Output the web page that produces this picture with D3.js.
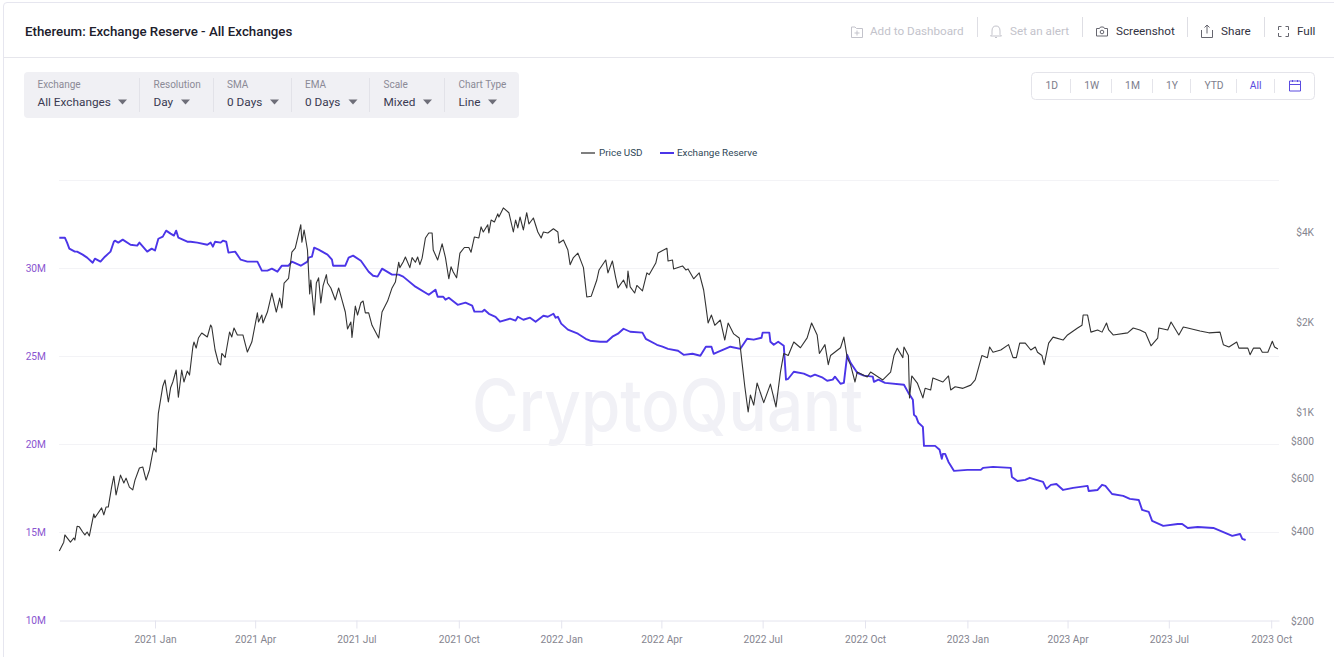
<!DOCTYPE html>
<html>
<head>
<meta charset="utf-8">
<script src="https://cdn.jsdelivr.net/npm/d3@7"></script>
<style>
html,body{margin:0;padding:0;background:#fff;overflow:hidden}
svg{display:block;font-family:Roboto,sans-serif}
</style>
</head>
<body>
<svg id="c" width="1334" height="657"></svg>
<script>
// ---------- data (days since the first date, and the value) ----------
const startDate = "2020-10-07";
const endDate = "2023-10-08";
const priceDays = [0,4,5,10,13,14,16,18,21,23,25,27,31,32,38,40,42,44,47,49,51,55,58,60,63,66,68,72,75,78,81,84,85,87,89,93,95,98,100,102,105,107,110,112,115,117,120,121,123,125,128,133,136,137,140,143,145,146,149,153,155,157,160,165,169,173,178,179,182,183,187,191,195,198,200,202,206,209,212,217,218,220,223,225,226,229,231,233,235,237,240,241,244,248,251,254,257,259,262,263,266,268,271,273,275,278,281,287,290,295,299,302,305,306,309,311,315,317,320,322,324,326,329,332,335,336,340,344,347,350,352,354,357,360,364,368,370,373,377,379,381,385,386,388,391,394,395,399,404,408,410,412,414,417,420,422,426,430,433,435,439,444,448,449,453,457,459,462,466,471,474,478,483,485,491,493,497,500,502,507,510,511,513,517,519,524,528,530,536,538,543,546,547,551,552,560,563,565,570,575,579,581,583,586,589,594,598,601,606,611,614,616,619,621,624,627,633,639,644,648,651,655,660,666,672,676,681,683,688,691,693,702,705,708,711,715,717,726,729,740,747,750,753,758,759,763,764,766,771,776,778,783,785,794,799,801,805,812,819,823,829,834,836,839,846,853,857,860,863,868,873,877,879,883,885,889,893,902,906,915,919,920,924,927,933,937,941,943,947,960,965,971,976,981,987,988,996,999,1006,1010,1014,1025,1033,1043,1046,1051,1058,1060,1068,1070,1073,1079,1081,1086,1090,1092,1095];
const priceValues = [343,367,388,367,379,373,415,413,397,388,397,385,456,443,478,453,481,481,561,610,528,615,579,601,561,549,592,650,655,592,640,735,758,735,990,1220,1280,1080,1205,1260,1382,1120,1382,1260,1371,1329,1650,1714,1637,1768,1838,1782,1955,1925,1612,1460,1438,1570,1522,1852,1782,1910,1810,1810,1587,1714,2146,2000,2110,1985,2160,2500,2160,2406,2228,2700,2800,3425,3530,4230,3700,4063,3483,2480,2764,2110,2700,2810,2315,2640,2880,2700,2600,2370,2600,2370,2160,1895,2000,1775,2260,2110,2320,2350,2146,2146,1950,1768,2160,2350,2600,2720,3170,3040,3175,3300,3040,3285,3170,3300,3110,3270,3820,3970,3970,3483,3225,3650,3285,2790,3060,2940,2810,3400,3550,3550,3425,3850,3820,4160,4000,4230,3970,4388,4320,4600,4490,4815,4640,4000,4388,4130,4490,4063,4640,4255,4456,4000,3820,4000,3970,4100,4000,3675,3762,3483,3110,3285,3400,3040,2425,2440,2764,2986,3225,2920,3200,2810,2600,2764,2600,2960,2620,2500,2650,2540,2920,2880,3150,3400,3483,3530,3200,3225,3010,3080,2986,3010,2790,2920,2559,2260,1985,2110,1950,2031,1741,1985,1825,1768,1410,1215,1000,1140,1055,1250,1075,1240,1040,1360,1570,1545,1715,1640,1770,1985,1810,1570,1680,1440,1545,1640,1780,1520,1440,1260,1360,1310,1360,1280,1360,1545,1635,1520,1650,1545,1115,1320,1250,1115,1200,1185,1300,1260,1320,1185,1215,1200,1230,1280,1545,1520,1650,1585,1612,1680,1520,1520,1700,1700,1612,1650,1585,1545,1440,1700,1780,1741,1810,1910,1950,2110,2110,1850,1881,1850,1985,1881,1810,1840,1910,1881,1840,1665,1765,1910,1881,2000,1810,1925,1910,1865,1840,1850,1680,1650,1715,1635,1635,1555,1635,1635,1585,1585,1725,1650,1625];
const reserveDays = [0,5,7,9,14,16,21,25,30,32,37,41,46,49,50,53,57,64,70,72,79,83,86,89,93,96,100,103,105,107,111,115,118,124,133,136,138,140,145,147,150,152,158,163,169,178,182,187,191,196,200,206,209,217,223,224,227,229,233,241,245,246,257,260,264,271,278,282,286,290,299,305,309,320,332,338,340,345,347,350,358,365,371,373,380,382,386,392,396,405,410,412,417,423,428,435,439,444,446,448,451,457,466,473,477,486,492,497,502,507,513,524,527,537,542,547,556,561,569,576,581,586,588,592,603,612,618,624,631,632,638,639,642,646,651,653,655,660,669,675,679,686,690,695,697,702,705,708,711,717,723,731,732,736,742,759,763,767,768,770,772,776,777,787,791,793,794,796,799,804,816,828,830,839,855,856,861,868,872,884,887,891,896,902,911,924,925,933,937,940,946,956,962,970,973,979,982,992,1005,1009,1014,1023,1037,1054,1061,1063,1066];
const reserveValues = [31.72,31.72,31.44,31.10,30.93,30.93,30.76,30.59,30.30,30.53,30.36,30.64,30.93,31.49,31.55,31.44,31.61,31.32,31.27,31.44,30.93,31.10,30.99,31.66,31.78,32.12,31.95,31.84,32.12,31.72,31.61,31.49,31.49,31.44,31.32,31.44,31.21,31.49,31.44,31.55,31.49,30.87,30.93,30.47,30.36,30.36,29.85,29.85,29.96,29.79,30.13,30.13,30.36,30.13,30.36,30.59,30.64,31.15,31.04,30.76,30.47,30.13,30.13,30.59,30.70,30.41,29.79,29.56,29.51,29.96,29.62,29.62,29.51,28.94,28.48,28.77,28.37,28.37,28.20,28.31,27.91,28.03,27.86,27.52,27.52,27.63,27.40,27.23,26.95,27.12,27.01,27.23,27.06,27.18,26.95,27.29,27.23,27.40,27.18,27.23,26.84,26.50,26.27,25.98,25.87,25.81,25.81,26.10,26.27,26.55,26.38,26.33,25.98,25.64,25.53,25.41,25.30,25.07,25.13,25.02,25.53,25.53,25.13,25.24,25.53,25.41,25.98,25.93,26.04,26.33,26.33,25.81,25.64,25.81,25.59,23.66,23.71,24.11,24.00,23.83,23.94,23.77,23.60,23.66,23.83,23.43,23.48,25.07,24.62,24.05,23.89,23.83,23.54,23.66,23.48,23.37,22.91,22.52,21.66,21.55,21.21,20.98,19.90,19.90,19.68,19.17,19.45,19.45,18.99,18.48,18.54,18.54,18.65,18.71,18.65,18.14,17.91,17.97,18.09,17.86,17.46,17.69,17.74,17.40,17.52,17.63,17.34,17.40,17.69,17.63,17.17,17.06,16.89,16.83,16.27,16.15,15.64,15.36,15.47,15.47,15.24,15.30,15.24,14.79,14.90,14.62,14.56];
const leftTicks = [10,15,20,25,30];
const gridTicks = [15,20,25,30,35];
const rightTicks = [200,400,600,800,1000,2000,4000];
const rightLabels = ["$200","$400","$600","$800","$1K","$2K","$4K"];
const xTickDates = ["2021-01-01","2021-04-01","2021-07-01","2021-10-01","2022-01-01","2022-04-01","2022-07-01","2022-10-01","2023-01-01","2023-04-01","2023-07-01","2023-10-01"];
const filterNames = ["Exchange","Resolution","SMA","EMA","Scale","Chart Type"];
const filterValues = ["All Exchanges","Day","0 Days","0 Days","Mixed","Line"];
const rangeNames = ["1D","1W","1M","1Y","YTD","All"];

// ---------- scaffolding ----------
const svg = d3.select("#c");
const parse = d3.utcParse("%Y-%m-%d");
const t0 = parse(startDate);
const x = d3.scaleUtc().domain([t0, parse(endDate)]).range([59.3, 1279]);
const yL = d3.scaleLinear().domain([10,35]).range([620.3,179.9]);
const yR = d3.scaleLog().domain([200,4000]).range([621,232]);
const dayDate = d => d3.utcDay.offset(t0, d);

function txt(s,xp,yp,size,fill,anchor,weight){
  return svg.append("text").attr("x",xp).attr("y",yp).attr("font-size",size).attr("fill",fill)
    .attr("text-anchor",anchor||"start").attr("font-weight",weight||400).attr("dominant-baseline","central").text(s);
}
function vline(xp,y1,y2,c){svg.append("line").attr("x1",xp).attr("x2",xp).attr("y1",y1).attr("y2",y2).attr("stroke",c);}

// card
svg.append("path").attr("d","M3.5,657V6q0,-3.5 3.5,-3.5H1334").attr("fill","none").attr("stroke","#e6e6ef");
svg.append("line").attr("x1",4).attr("x2",1334).attr("y1",57.5).attr("y2",57.5).attr("stroke","#e6e6ec");
txt("Ethereum: Exchange Reserve - All Exchanges",25,31,13.3,"#20202c","start",500);

// toolbar
const dim="#c3c3cb", dark="#33333f";
txt("Add to Dashboard",870,31,11.7,dim);
txt("Set an alert",1010,31,11.7,dim);
txt("Screenshot",1116,31,11.7,dark);
txt("Share",1221,31,11.7,dark);
txt("Full",1297,31,11.7,dark);
[977.5,1082.5,1187.5,1264.5].forEach(p=>vline(p,17,37,"#dedee4"));
const ic = (d,c)=>svg.append("path").attr("d",d).attr("fill","none").attr("stroke",c).attr("stroke-width",1);
ic("M851.5,27v10.5h11v-9h-6l-1.5,-1.5zM857,30.5v5M854.5,33h5",dim);
ic("M996,26q-4,0 -4,5v3.5l-1.5,1.5h11l-1.5,-1.5v-3.5q0,-5 -4,-5zM995,37.5h2",dim);
ic("M1096.5,28.5h3l1,-1.5h3l1,1.5h3v7.5h-11z","#66666f");
svg.append("circle").attr("cx",1102).attr("cy",32).attr("r",1.8).attr("fill","none").attr("stroke","#66666f");
ic("M1201.5,30v7.5h11v-7.5M1207,33.5v-8.5M1204.5,27.5l2.5,-2.5l2.5,2.5","#66666f");
ic("M1278.5,30v-3.5h3M1285.5,26.5h3v3.5M1288.5,33v3.5h-3M1281.5,36.5h-3v-3.5","#66666f");

// filter panel
svg.append("rect").attr("x",24).attr("y",72).attr("width",495).attr("height",46).attr("rx",4).attr("fill","#f0f0f4");
const filterX=[37.5,153.5,227,305,383.5,458.5], arrowX=[122.5,185.5,274.5,353,427.5,492.5], sepX=[139.5,213.5,291.5,369.5,444.5];
sepX.forEach(p=>vline(p,78,112,"#e2e2e8"));
filterNames.forEach((n,i)=>{
  txt(n,filterX[i],84.5,10,"#8b8a96");
  txt(filterValues[i],filterX[i],101.5,11.8,"#3a3a52");
  svg.append("path").attr("d",d3.line()([[arrowX[i]-4.5,99.5],[arrowX[i]+4.5,99.5],[arrowX[i],104.5]])+"Z").attr("fill","#6e6e78");
});

// range selector
svg.append("rect").attr("x",1031.5).attr("y",72.5).attr("width",283).attr("height",27).attr("rx",4).attr("fill","#fff").attr("stroke","#e4e4ea");
const rangeX=[1051.7,1091.7,1132.5,1172,1214,1255.7];
rangeNames.forEach((n,i)=>txt(n,rangeX[i],85.5,10.3,n==="All"?"#5a4be0":"#7d7d8c","middle"));
[1070.5,1111.5,1152.5,1190.5,1236.5,1274.5].forEach(p=>vline(p,79,93,"#e4e4ea"));
ic("M1289.5,81h11v10h-11zM1289.5,84.5h11M1292.5,80v2M1297.5,80v2","#5a4be0");

// legend
svg.append("line").attr("x1",581).attr("x2",595).attr("y1",153).attr("y2",153).attr("stroke","#555").attr("stroke-width",1.5);
txt("Price USD",599,152.3,9.9,"#2f4858");
svg.append("line").attr("x1",660).attr("x2",674).attr("y1",153).attr("y2",153).attr("stroke","#4b35e8").attr("stroke-width",2);
txt("Exchange Reserve",677,152.3,9.9,"#2f4858");

// watermark
svg.append("text").attr("x",472).attr("y",431).attr("font-family","Inter,Roboto,sans-serif").attr("font-size",72)
  .attr("font-weight",500).attr("fill","#f1f1f6").attr("textLength",391).attr("lengthAdjust","spacingAndGlyphs").text("CryptoQuant");

// grid
svg.append("g").selectAll("line").data(gridTicks).join("line")
  .attr("x1",59).attr("x2",1279).attr("y1",d=>Math.round(yL(d))+.5).attr("y2",d=>Math.round(yL(d))+.5).attr("stroke","#f3f3f6");

// x axis
const xAxis = d3.axisBottom(x).tickValues(xTickDates.map(parse)).tickFormat(d3.utcFormat("%Y %b")).tickSizeInner(8).tickSizeOuter(0).tickPadding(7);
const gx = svg.append("g").attr("transform","translate(0,620.5)").call(xAxis);
gx.select(".domain").attr("stroke","#e4e4ee");
gx.selectAll(".tick line").attr("stroke","#e4e4ee");
gx.selectAll("text").attr("fill","#85858f").attr("font-size",10.2).attr("font-family","Roboto,sans-serif");

// left axis
const gl = svg.append("g").attr("transform","translate(59,0)").call(d3.axisLeft(yL).tickValues(leftTicks).tickFormat(d=>d+"M").tickSize(0).tickPadding(13));
gl.select(".domain").remove();
gl.selectAll("text").attr("fill","#8a55d0").attr("font-size",10.2).attr("font-family","Roboto,sans-serif");

// right axis
const gr = svg.append("g").attr("transform","translate(1315,0)").call(d3.axisLeft(yR).tickValues(rightTicks).tickFormat((d,i)=>rightLabels[i]).tickSize(0).tickPadding(1));
gr.select(".domain").remove();
gr.selectAll("text").attr("fill","#85858f").attr("font-size",10.2).attr("font-family","Roboto,sans-serif");

// lines
const reserve = reserveDays.map((d,i)=>[dayDate(d),reserveValues[i]]);
const price = priceDays.map((d,i)=>[dayDate(d),priceValues[i]]);
svg.append("path").attr("d",d3.line().x(d=>x(d[0])).y(d=>yL(d[1]))(reserve)).attr("fill","none").attr("stroke","#4b35e8").attr("stroke-width",1.9).attr("stroke-linejoin","round");
svg.append("path").attr("d",d3.line().x(d=>x(d[0])).y(d=>yR(d[1]))(price)).attr("fill","none").attr("stroke","#333").attr("stroke-width",1.1).attr("stroke-linejoin","round");
</script>
</body>
</html>
